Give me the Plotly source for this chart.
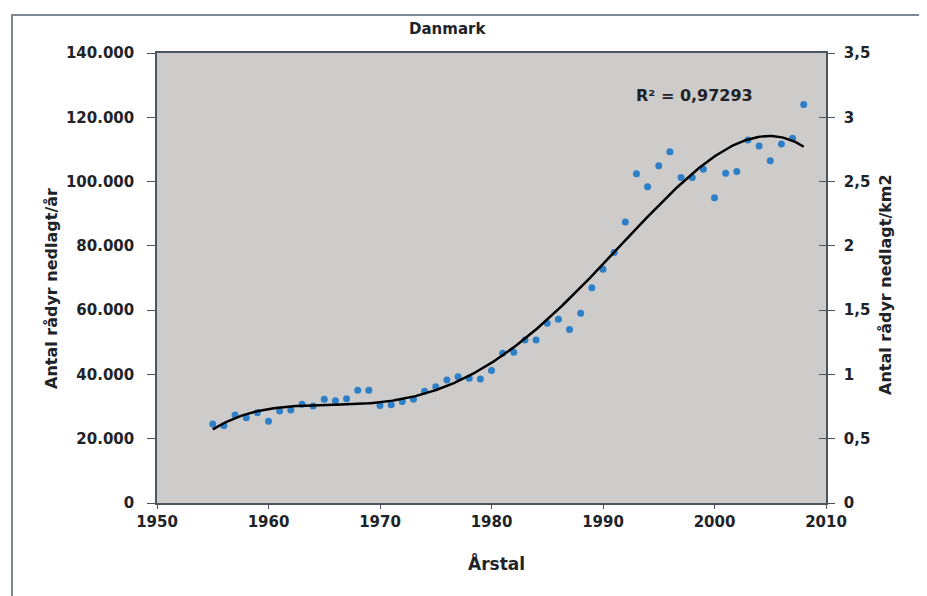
import numpy as np
import plotly.graph_objects as go

# Danish roe deer bag per year
years = list(range(1955, 2009))
bag = [
    24.6, 24.0, 27.4, 26.5, 28.1, 25.4, 28.6, 28.9, 30.7, 30.2,
    32.3, 31.8, 32.4, 35.1, 35.1, 30.3, 30.6, 31.6, 32.3, 34.8,
    36.2, 38.3, 39.3, 38.8, 38.6, 41.2, 46.6, 46.9, 50.7, 50.7,
    55.9, 57.2, 54.0, 59.0, 67.0, 72.7, 77.9, 87.4, 102.4, 98.4,
    104.9, 109.3, 101.3, 101.3, 103.8, 95.0, 102.6, 103.1, 112.9, 111.1,
    106.5, 111.7, 113.5, 124.0,
]
bag = [v * 1000 for v in bag]

left_ticks = list(range(0, 140001, 20000))
right_ticks = [0, 0.5, 1, 1.5, 2, 2.5, 3, 3.5]
x_ticks = list(range(1950, 2011, 10))
r2_label = "R² = 0,97293"

FONT = "DejaVu Sans"
TXT = "#1e2328"
AXIS = "#4a5560"

# page body has an 8px margin, so positions below are page px - 8
OFF = 8
L, R, T, B = 157 - OFF, 826 - OFF, 53 - OFF, 503 - OFF
W, H = 927 - OFF, 596 - OFF


def px(x):
    return (x - OFF - L) / (R - L)


def py(y):
    return (B - (y - OFF)) / (B - T)


# 4th order polynomial trendline, as in the spreadsheet
xa = np.array(years, dtype=float)
coef = np.polyfit(xa - 1980, np.array(bag), 4)
xt = np.linspace(xa.min(), xa.max(), 300)
yt = np.polyval(coef, xt - 1980)

fig = go.Figure()

fig.add_trace(go.Scatter(
    x=years, y=bag, mode="markers",
    marker=dict(color="#2d7fc7", size=7),
    showlegend=False, hoverinfo="x+y",
))
fig.add_trace(go.Scatter(
    x=xt, y=yt, mode="lines",
    line=dict(color="#000000", width=2.5),
    showlegend=False, hoverinfo="skip",
))
# invisible traces so the right axes get drawn
for ax in ["y2", "y3"]:
    fig.add_trace(go.Scatter(
        x=[1950], y=[0], yaxis=ax, mode="markers",
        marker=dict(opacity=0), showlegend=False, hoverinfo="skip",
    ))

tickfont = dict(family=FONT, size=15, color=TXT, weight="bold")


def label(text, x, y, size, angle=0):
    return dict(text=text, xref="paper", yref="paper", x=px(x), y=py(y),
                xanchor="center", yanchor="middle", textangle=angle,
                showarrow=False,
                font=dict(family=FONT, size=size, color=TXT, weight="bold"))


fig.update_layout(
    width=W, height=H,
    margin=dict(l=L, r=W - R, t=T, b=H - B),
    paper_bgcolor="white",
    plot_bgcolor="#cdcccb",
    separators=",.",
    xaxis=dict(
        range=[1950, 2010], tickvals=x_ticks, showgrid=False, zeroline=False,
        showline=True, linecolor=AXIS, linewidth=1.5, mirror=True,
        ticks="outside", ticklen=4, tickcolor=AXIS,
        tickfont=tickfont,
    ),
    yaxis=dict(
        range=[0, 140000], tickvals=left_ticks, tickformat=",",
        showgrid=False, zeroline=False,
        showline=True, linecolor=AXIS, linewidth=1.5,
        ticks="outside", ticklen=8, tickcolor=AXIS,
        ticklabelstandoff=10, tickfont=tickfont,
    ),
    yaxis2=dict(
        range=[0, 3.5], tickvals=right_ticks, overlaying="y", side="right",
        showgrid=False, zeroline=False,
        showline=True, linecolor=AXIS, linewidth=1.5,
        ticks="outside", ticklen=7, tickcolor=AXIS,
        ticklabelstandoff=6, tickfont=tickfont,
    ),
    # inner half of the crossing ticks on the right axis
    yaxis3=dict(
        range=[0, 3.5], tickvals=right_ticks, overlaying="y", side="right",
        showgrid=False, zeroline=False, showline=False,
        ticks="inside", ticklen=7, tickcolor=AXIS, showticklabels=False,
    ),
    shapes=[dict(
        type="rect", xref="paper", yref="paper",
        x0=px(12), x1=px(922), y0=py(600), y1=py(15),
        line=dict(color="#7d8890", width=2), layer="below",
    )],
    annotations=[
        label("Danmark", 447, 29, 15),
        label(r2_label, 694, 96, 16),
        label("Antal rådyr nedlagt/år", 51, 289, 16, -90),
        label("Antal rådyr nedlagt/km2", 885, 285, 16, -90),
        label("Årstal", 496, 563, 17),
    ],
)

fig.write_html("out.html")
